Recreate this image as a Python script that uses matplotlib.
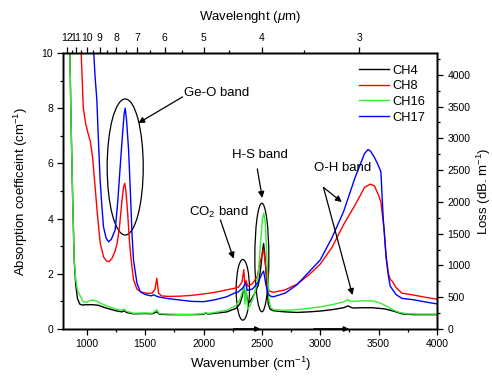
import matplotlib
matplotlib.use('Agg')
import matplotlib.pyplot as plt
from matplotlib.patches import Ellipse
from matplotlib.ticker import MultipleLocator, FixedLocator

plt.rcParams['font.family'] = ['Liberation Sans', 'DejaVu Sans']
plt.rcParams['mathtext.fontset'] = 'custom'
plt.rcParams['mathtext.rm'] = 'Liberation Sans'
plt.rcParams['mathtext.it'] = 'Liberation Sans:italic'

## CH4 spectrum (wavenumber cm-1, absorption cm-1)
ch4_wn = [840, 855, 865, 880, 892, 905, 920, 940, 960, 1000, 1050, 1100, 1150, 1200, 1250,
          1300, 1320, 1340, 1400, 1500, 1560, 1600, 1620, 1700, 1800, 1900, 2000, 2020, 2040,
          2100, 2200, 2280, 2310, 2330, 2345, 2355, 2365, 2380, 2400, 2440, 2470, 2490, 2505,
          2515, 2525, 2540, 2555, 2570, 2600, 2700, 2800, 2900, 3000, 3100, 3200, 3240, 3255,
          3280, 3350, 3450, 3550, 3600, 3650, 3700, 3800, 3900, 4000]
ch4_abs = [12, 10, 7.5, 4.5, 2.5, 1.6, 1.1, 0.9, 0.87, 0.88, 0.88, 0.86, 0.78, 0.72, 0.66,
           0.62, 0.66, 0.6, 0.55, 0.56, 0.55, 0.62, 0.54, 0.52, 0.52, 0.52, 0.53, 0.58, 0.54,
           0.57, 0.62, 0.75, 0.9, 1.15, 1.5, 1.2, 1.35, 0.95, 1.0, 1.3, 1.6, 2.2, 2.8,
           3.1, 2.7, 1.8, 0.9, 0.72, 0.66, 0.62, 0.6, 0.62, 0.65, 0.7, 0.77, 0.84, 0.8,
           0.76, 0.77, 0.77, 0.73, 0.68, 0.62, 0.55, 0.52, 0.52, 0.52]

## CH8 spectrum
ch8_wn = [930, 950, 970, 990, 1010, 1030, 1050, 1070, 1090, 1115, 1145, 1170, 1190, 1215, 1240,
          1260, 1280, 1300, 1315, 1325, 1335, 1350, 1365, 1380, 1400, 1430, 1470, 1520, 1560,
          1585, 1600, 1615, 1640, 1700, 1800, 1900, 2000, 2100, 2200, 2260, 2300, 2330, 2345,
          2355, 2365, 2380, 2420, 2460, 2490, 2515, 2535, 2550, 2565, 2600, 2700, 2800, 2900,
          3000, 3100, 3200, 3300, 3380, 3430, 3465, 3500, 3520, 3548, 3565, 3585, 3600, 3620,
          3650, 3700, 3800, 3900, 4000]
ch8_abs = [12, 10.2, 8, 7.45, 7.1, 6.8, 6.2, 5.2, 4.2, 3.1, 2.6, 2.46, 2.44, 2.55, 2.8,
           3.1, 3.7, 4.6, 5.15, 5.28, 5.0, 4.2, 3.2, 2.5, 1.8, 1.44, 1.33, 1.29, 1.3,
           1.45, 1.84, 1.3, 1.2, 1.18, 1.19, 1.22, 1.27, 1.33, 1.42, 1.47, 1.52, 1.7, 2.15,
           1.6, 1.75, 1.55, 1.65, 1.9, 2.5, 2.89, 2.2, 1.5, 1.37, 1.33, 1.42, 1.62, 1.95,
           2.35, 2.95, 3.78, 4.5, 5.13, 5.25, 5.18, 4.85, 4.6, 3.6, 2.6, 2.0, 1.8, 1.72,
           1.5, 1.3, 1.23, 1.15, 1.08]

## CH16 spectrum
ch16_wn = [840, 855, 865, 880, 892, 905, 920, 943, 970, 1000, 1040, 1080, 1120, 1180, 1250,
           1300, 1320, 1340, 1400, 1500, 1560, 1600, 1620, 1700, 1800, 1900, 2000, 2020, 2040,
           2100, 2200, 2280, 2310, 2330, 2345, 2355, 2365, 2380, 2400, 2440, 2470, 2490, 2505,
           2517, 2530, 2545, 2560, 2575, 2600, 2700, 2800, 2900, 3000, 3100, 3200, 3240, 3255,
           3280, 3350, 3450, 3520, 3580, 3630, 3680, 3750, 3850, 4000]
ch16_abs = [12, 10, 7.5, 4.5, 2.5, 1.8, 1.4, 1.2, 0.98, 0.97, 1.05, 1.02, 0.93, 0.82, 0.72,
            0.68, 0.72, 0.64, 0.57, 0.58, 0.57, 0.7, 0.56, 0.54, 0.53, 0.53, 0.55, 0.6, 0.56,
            0.6, 0.68, 0.85, 1.05, 1.3, 1.55, 0.9, 1.45, 0.72, 0.85, 1.3, 2.0, 3.2, 4.0,
            4.2, 3.8, 2.4, 1.1, 0.78, 0.7, 0.68, 0.7, 0.75, 0.8, 0.88, 0.98, 1.07, 1.0,
            1.0, 1.02, 1.02, 0.93, 0.8, 0.68, 0.6, 0.55, 0.54, 0.54]

## CH17 spectrum
ch17_wn = [1040, 1057, 1070, 1086, 1100, 1114, 1130, 1143, 1165, 1186, 1210, 1243, 1265, 1286,
           1305, 1320, 1329, 1340, 1358, 1375, 1387, 1400, 1430, 1458, 1500, 1550, 1575, 1600,
           1630, 1700, 1800, 1900, 2000, 2100, 2200, 2260, 2300, 2340, 2360, 2375, 2420, 2470,
           2500, 2515, 2535, 2555, 2580, 2600, 2700, 2800, 2900, 3000, 3100, 3200, 3300, 3380,
           3410, 3430, 3462, 3490, 3520, 3540, 3565, 3585, 3600, 3650, 3700, 3800, 3900, 4000]
ch17_abs = [12, 10.2, 9.2, 8.3, 6.8, 5.4, 4.4, 3.7, 3.3, 3.16, 3.25, 3.59, 4.6, 5.88,
            7.0, 7.8, 8.0, 7.6, 6.49, 4.8, 3.47, 2.5, 1.66, 1.35, 1.25, 1.2, 1.24, 1.18,
            1.15, 1.1, 1.05, 1.0, 0.99, 1.06, 1.17, 1.29, 1.35, 1.5, 1.68, 1.4, 1.45, 1.7,
            2.0, 2.1, 1.6, 1.25, 1.18, 1.17, 1.3, 1.6, 2.05, 2.5, 3.3, 4.25, 5.5, 6.36,
            6.5, 6.45, 6.24, 6.0, 5.7, 4.0, 2.6, 1.9, 1.55, 1.25, 1.11, 1.06, 0.98, 0.91]

## top axis wavelengths (um)
wl_major = [12, 11, 10, 9, 8, 7, 6, 5, 4, 3]
wl_minor = [11.5, 10.5, 9.5, 8.5, 7.5, 6.5, 5.5, 4.5, 3.5]

fig = plt.figure(figsize=(4.92, 3.76), dpi=100)
ax = fig.add_axes([0.129, 0.125, 0.759, 0.734])

ax.plot(ch4_wn, ch4_abs, color='black', lw=1.0, label='CH4')
ax.plot(ch8_wn, ch8_abs, color='#ff0000', lw=1.0, label='CH8')
ax.plot(ch16_wn, ch16_abs, color='#33ee33', lw=1.0, label='CH16')
ax.plot(ch17_wn, ch17_abs, color='#0000ff', lw=1.0, label='CH17')

ax.set_xlim(800, 4000)
ax.set_ylim(0, 10)
ax.xaxis.set_major_locator(MultipleLocator(500))
ax.xaxis.set_minor_locator(MultipleLocator(250))
ax.yaxis.set_major_locator(MultipleLocator(2))
ax.yaxis.set_minor_locator(MultipleLocator(1))
ax.set_xlabel('Wavenumber (cm$^{-1}$)', fontsize=9.5, labelpad=4)
ax.set_ylabel('Absorption coefficeint (cm$^{-1}$)', fontsize=9.5, labelpad=8)

# dB/m scale on the right
axr = ax.twinx()
axr.set_ylim(0, 10 * 434.3)
axr.yaxis.set_major_locator(MultipleLocator(500))
axr.yaxis.set_minor_locator(MultipleLocator(250))
axr.set_ylabel('Loss (dB. m$^{-1}$)', fontsize=9.5, labelpad=3)

# wavelength scale on top
axt = ax.twiny()
axt.set_xlim(800, 4000)
axt.xaxis.set_major_locator(FixedLocator([10000.0 / w for w in wl_major]))
axt.xaxis.set_minor_locator(FixedLocator([10000.0 / w for w in wl_minor]))
axt.set_xticklabels([str(w) for w in wl_major])
axt.set_xlabel('Wavelenght ($\\mu$m)', fontsize=9.5, labelpad=9)

for a in (ax, axr, axt):
    a.tick_params(which='major', direction='out', length=4, width=0.9, labelsize=7.5)
    a.tick_params(which='minor', direction='out', length=2.5, width=0.9)
    for s in a.spines.values():
        s.set_linewidth(1.0)
ax.tick_params(top=False, right=False, which='both')

# band ellipses
ax.add_patch(Ellipse((1329, 5.87), 309, 4.93, fill=False, ec='black', lw=0.9))
ax.add_patch(Ellipse((2337, 1.42), 114, 2.2, fill=False, ec='black', lw=0.9))
ax.add_patch(Ellipse((2500, 2.59), 120, 3.93, fill=False, ec='black', lw=0.9))

arr = dict(arrowstyle='-|>', color='black', lw=0.9, mutation_scale=9, shrinkA=0, shrinkB=0)
ax.annotate('', xy=(1441, 7.46), xytext=(1820, 8.41), arrowprops=arr)
ax.text(1829, 8.55, 'Ge-O band', fontsize=9.5, va='center', ha='left')

ax.annotate('', xy=(2258, 2.55), xytext=(2145, 3.95), arrowprops=arr)
ax.text(1879, 4.24, 'CO$_2$ band', fontsize=9.5, va='center', ha='left')

ax.annotate('', xy=(2504, 4.75), xytext=(2461, 5.8), arrowprops=arr)
ax.text(2240, 6.3, 'H-S band', fontsize=9.5, va='center', ha='left')

ax.annotate('', xy=(3185, 4.6), xytext=(3028, 5.13), arrowprops=arr)
ax.annotate('', xy=(3277, 1.23), xytext=(3028, 5.13), arrowprops=arr)
ax.text(2947, 5.82, 'O-H band', fontsize=9.5, va='center', ha='left')

# small arrows lying on the bottom axis
small = dict(arrowstyle='-|>', color='black', lw=1.2, mutation_scale=7, shrinkA=0, shrinkB=0)
ax.annotate('', xy=(2489, 0), xytext=(2259, 0), arrowprops=small, annotation_clip=False)
ax.annotate('', xy=(3248, 0), xytext=(2947, 0), arrowprops=small, annotation_clip=False)

ax.legend(loc='upper right', bbox_to_anchor=(1.0, 1.0), frameon=False, fontsize=9.3,
          handlelength=2.3, handletextpad=0.3, labelspacing=0.28, borderaxespad=0.5)

fig.savefig('out.png', dpi=100)
